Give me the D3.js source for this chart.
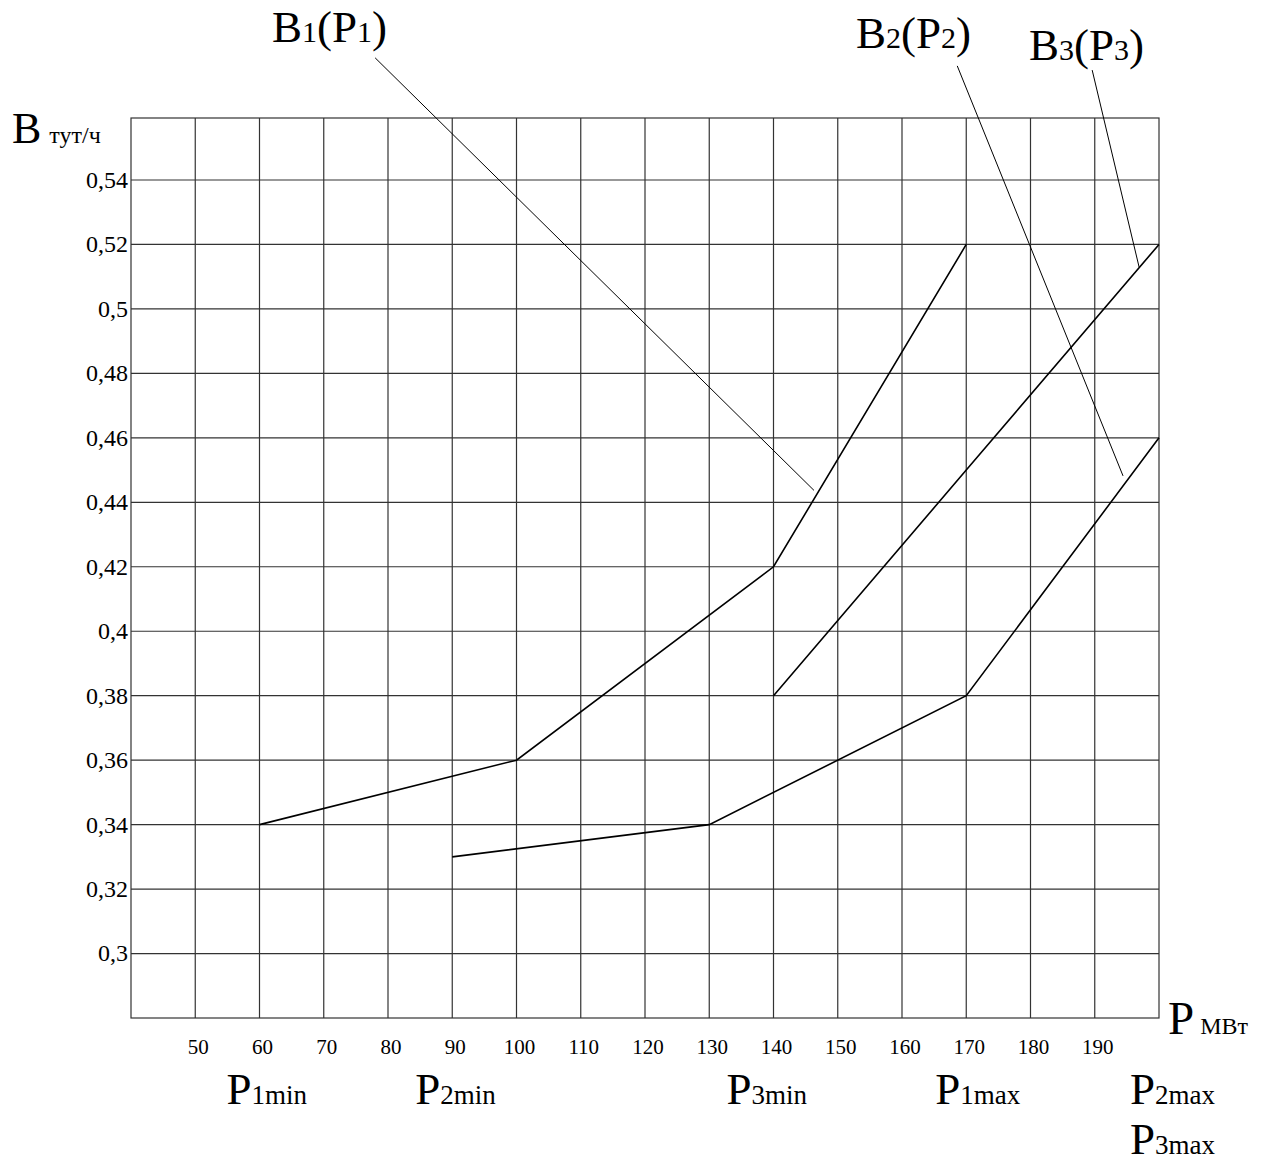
<!DOCTYPE html>
<html>
<head>
<meta charset="utf-8">
<script src="https://cdn.jsdelivr.net/npm/d3@7"></script>
<style>
body { margin: 0; background: #fff; }
</style>
</head>
<body>
<script>
// data
var xTicks = [50, 60, 70, 80, 90, 100, 110, 120, 130, 140, 150, 160, 170, 180, 190];
var yTicks = [0.3, 0.32, 0.34, 0.36, 0.38, 0.4, 0.42, 0.44, 0.46, 0.48, 0.5, 0.52, 0.54];

var b1P = [60, 100, 140, 170];
var b1B = [0.34, 0.36, 0.42, 0.52];
var b2P = [90, 130, 170, 200];
var b2B = [0.33, 0.34, 0.38, 0.46];
var b3P = [140, 170, 200];
var b3B = [0.38, 0.45, 0.52];

// curve labels, leader line from (p0,b0) to (p1,b1) in chart units
var labels = [
    {sub: "1", lx: 272, ly: 42, p0: 78.0, b0: 0.5779, p1: 146.3, b1: 0.4437},
    {sub: "2", lx: 856, ly: 48, p0: 168.6, b0: 0.5754, p1: 194.4, b1: 0.4482},
    {sub: "3", lx: 1029, ly: 60, p0: 189.6, b0: 0.5741, p1: 196.9, b1: 0.5130}
];

// P min / max labels under the axis
var pLabels = [
    {sub: "1min", p: 60, dx: -33, row: 0},
    {sub: "2min", p: 90, dx: -37, row: 0},
    {sub: "3min", p: 140, dx: -47, row: 0},
    {sub: "1max", p: 170, dx: -31, row: 0},
    {sub: "2max", p: 200, dx: -29, row: 0},
    {sub: "3max", p: 200, dx: -29, row: 1}
];

var width = 1274;
var height = 1165;
var svg = d3.select("body")
    .append("svg")
    .attr("width", width)
    .attr("height", height)
    .attr("font-family", "'Liberation Serif', 'Times New Roman', serif");

var x = d3.scaleLinear().domain([40, 200]).range([131, 1159]);
var y = d3.scaleLinear().domain([0.28, 0.54]).range([1018, 180]);
var frameTop = 118;

// grid
var grid = svg.append("g").attr("stroke", "#333").attr("stroke-width", 1.2);
grid.selectAll("line.v")
    .data(xTicks)
    .enter()
    .append("line")
    .attr("class", "v")
    .attr("x1", function(d){ return x(d); })
    .attr("x2", function(d){ return x(d); })
    .attr("y1", frameTop)
    .attr("y2", y(0.28));
grid.selectAll("line.h")
    .data(yTicks)
    .enter()
    .append("line")
    .attr("class", "h")
    .attr("x1", x(40))
    .attr("x2", x(200))
    .attr("y1", function(d){ return y(d); })
    .attr("y2", function(d){ return y(d); });
grid.append("rect")
    .attr("x", x(40))
    .attr("y", frameTop)
    .attr("width", x(200) - x(40))
    .attr("height", y(0.28) - frameTop)
    .attr("fill", "none");

// tick labels
svg.selectAll("text.yt")
    .data(yTicks)
    .enter()
    .append("text")
    .attr("class", "yt")
    .attr("x", x(40) - 3)
    .attr("y", function(d){ return y(d); })
    .attr("dy", "0.33em")
    .attr("text-anchor", "end")
    .style("font-size", "24px")
    .text(function(d){ return String(+d.toFixed(2)).replace(".", ","); });

svg.selectAll("text.xt")
    .data(xTicks)
    .enter()
    .append("text")
    .attr("class", "xt")
    .attr("x", function(d){ return x(d) + 3; })
    .attr("y", 1054)
    .attr("text-anchor", "middle")
    .style("font-size", "21px")
    .text(function(d){ return d; });

// curves
var line = d3.line()
    .x(function(d){ return x(d[0]); })
    .y(function(d){ return y(d[1]); });
[[b1P, b1B], [b2P, b2B], [b3P, b3B]].forEach(function(s){
    svg.append("path")
        .datum(d3.zip(s[0], s[1]))
        .attr("d", line)
        .attr("fill", "none")
        .attr("stroke", "#000")
        .attr("stroke-width", 1.6);
});

// curve labels and leaders
labels.forEach(function(l){
    svg.append("line")
        .attr("x1", x(l.p0)).attr("y1", y(l.b0))
        .attr("x2", x(l.p1)).attr("y2", y(l.b1))
        .attr("stroke", "#000")
        .attr("stroke-width", 1);
    var t = svg.append("text")
        .attr("x", l.lx)
        .attr("y", l.ly)
        .style("font-size", "45px");
    t.append("tspan").text("B");
    t.append("tspan").style("font-size", "30px").text(l.sub);
    t.append("tspan").text("(P");
    t.append("tspan").style("font-size", "30px").text(l.sub);
    t.append("tspan").text(")");
});

// axis names
var yName = svg.append("text").attr("x", 12).attr("y", 143).style("font-size", "44px");
yName.append("tspan").text("B");
yName.append("tspan").attr("dx", 8).style("font-size", "24px").text("тут/ч");

var xName = svg.append("text").attr("x", 1168).attr("y", 1034).style("font-size", "47px");
xName.append("tspan").text("P");
xName.append("tspan").attr("dx", 6).style("font-size", "24px").text("МВт");

pLabels.forEach(function(d){
    var t = svg.append("text")
        .attr("x", x(d.p) + d.dx)
        .attr("y", 1104 + d.row * 50)
        .style("font-size", "45px");
    t.append("tspan").text("P");
    t.append("tspan").style("font-size", "27px").text(d.sub);
});
</script>
</body>
</html>
